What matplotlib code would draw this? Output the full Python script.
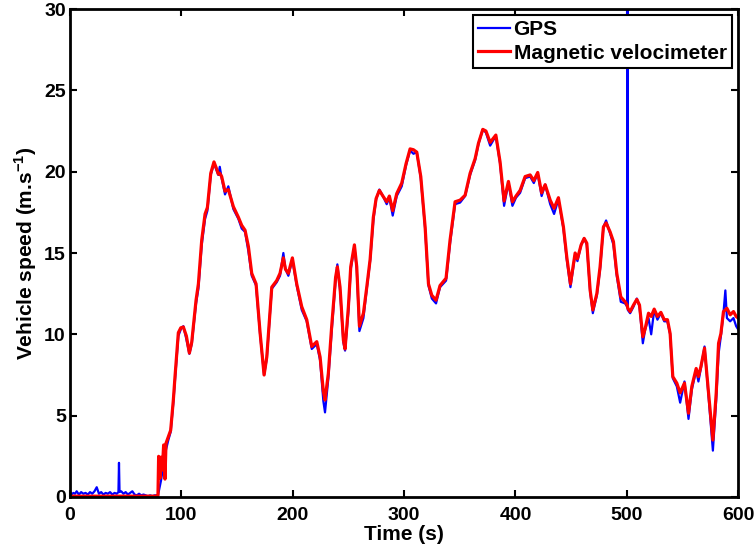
import numpy as np
import matplotlib.pyplot as plt
plt.switch_backend('agg')

plt.rcParams['font.family'] = ['Liberation Sans', 'DejaVu Sans']
plt.rcParams['font.weight'] = 'bold'
plt.rcParams['mathtext.fontset'] = 'custom'
plt.rcParams['mathtext.bf'] = 'Liberation Sans:bold'
plt.rcParams['mathtext.rm'] = 'Liberation Sans:bold'

# idle part, vehicle stopped (0-78 s)
t_idle = [0, 1.5, 3, 4.5, 6, 8, 10, 12, 14, 16,
          18, 20, 22, 24, 26, 28, 30, 32, 34, 36,
          38, 40, 42, 43.5, 44, 44.5, 46, 48, 50, 52,
          54, 56, 58, 60, 62, 64, 66, 68, 70, 72,
          74, 76, 78]
gps_idle = [0.3, 0.15, 0.25, 0.2, 0.35, 0.15, 0.3, 0.2, 0.25, 0.15,
            0.3, 0.2, 0.35, 0.6, 0.2, 0.3, 0.15, 0.25, 0.2, 0.3,
            0.15, 0.25, 0.2, 0.3, 2.1, 0.3, 0.35, 0.2, 0.3, 0.15,
            0.25, 0.35, 0.15, 0.1, 0.2, 0.1, 0.15, 0.1, 0.05, 0.1,
            0.05, 0.1, 0.1]
mag_idle = [0.05] * len(t_idle)

# start up (79-90 s)
t_start = [79, 79.6, 80.8, 81.7, 82.9, 84.1, 85.3, 86.2, 88.3, 90.4]
mag_start = [0.1, 2.5, 1.15, 2.45, 1.65, 3.2, 1.1, 3.3, 3.7, 4.1]
gps_start = [0.1, 0.3, 0.7, 1.0, 1.5, 2.0, 2.5, 2.9, 3.5, 4.0]

# driving
t_drive = [92.8, 94.3, 97.3, 99.5, 101.8, 104.5, 107.2, 109.3, 113.2, 115.3,
           118.3, 121.3, 123.4, 126.4, 129.3, 131.5, 133.2, 134.5, 136.2, 139.2,
           142.2, 146.7, 151.2, 154.2, 157.2, 160.2, 163.2, 167.1, 170.7, 174.3,
           176.7, 181.2, 185.6, 188.6, 191.6, 193.5, 196.1, 199.7, 203.6, 208.1,
           212.6, 217.1, 221.6, 224.6, 227.5, 229.0, 232.0, 235.0, 238.5, 240.1,
           242.5, 245.5, 247.0, 250.0, 252.1, 255.4, 257.5, 259.9, 263.5, 266.5,
           269.5, 272.4, 274.9, 277.8, 281.0, 284.4, 286.8, 289.8, 293.4, 297.9,
           301.8, 305.4, 308.4, 311.4, 315.0, 318.9, 321.9, 324.9, 328.7, 332.3,
           337.7, 341.3, 345.8, 350.3, 354.8, 359.3, 363.8, 366.8, 370.7, 373.5,
           377.3, 382.4, 386.2, 389.8, 393.7, 397.3, 400.5, 404.2, 408.7, 413.2,
           416.5, 420.0, 423.5, 426.7, 431.2, 434.7, 438.6, 443.1, 446.1, 449.4,
           453.6, 455.7, 459.0, 461.7, 464.1, 467.1, 469.5, 473.1, 476.0, 479.0,
           481.4, 485.0, 488.0, 491.0, 494.6, 498.5, 500.3, 500.6, 500.9, 503.0,
           506.0, 509.0, 511.4, 514.4, 516.5, 519.5, 521.9, 524.6, 527.5, 530.6,
           533.6, 536.5, 538.9, 541.3, 544.9, 547.9, 551.8, 555.4, 558.4, 562.3,
           564.3, 566.5, 569.8, 573.4, 577.3, 580.3, 582.4, 584.5, 586.8, 588.5,
           589.9, 592.8, 595.8, 598.2, 600]
mag_drive = [5.96, 7.4, 10.1, 10.4, 10.45, 9.9, 8.85, 9.5, 12.1, 13.1,
             15.8, 17.4, 17.8, 19.9, 20.6, 20.2, 19.85, 19.9, 19.7, 18.8,
             18.9, 17.85, 17.2, 16.7, 16.4, 15.4, 13.75, 13.1, 10.1, 7.5,
             8.6, 12.9, 13.3, 13.75, 14.7, 14.0, 13.75, 14.7, 13.1, 11.7,
             10.9, 9.25, 9.55, 8.6, 6.5, 5.96, 7.6, 10.5, 13.5, 14.15,
             12.9, 9.65, 9.1, 11.7, 14.15, 15.5, 14.15, 10.5, 11.3, 12.9,
             14.6, 17.2, 18.35, 18.85, 18.5, 18.15, 18.5, 17.6, 18.65, 19.3,
             20.5, 21.4, 21.35, 21.2, 19.7, 16.6, 13.1, 12.4, 12.1, 13.0,
             13.45, 15.8, 18.15, 18.25, 18.55, 19.9, 20.8, 21.75, 22.6, 22.5,
             21.8, 22.25, 20.6, 18.2, 19.4, 18.15, 18.5, 18.85, 19.7, 19.8,
             19.45, 19.95, 18.7, 19.2, 18.25, 17.75, 18.4, 16.6, 14.75, 13.1,
             15.0, 14.65, 15.5, 15.9, 15.6, 12.7, 11.5, 12.5, 14.15, 16.6,
             16.85, 16.3, 15.7, 13.75, 12.3, 12.0, 11.8, 11.7, 11.6, 11.4,
             11.8, 12.15, 11.8, 9.85, 10.35, 11.3, 11.1, 11.55, 11.1, 11.35,
             10.9, 10.9, 10.05, 7.4, 7.0, 6.4, 7.0, 5.15, 6.8, 7.9,
             7.4, 8.0, 9.15, 6.4, 3.5, 6.4, 9.45, 10.05, 11.4, 11.5,
             11.6, 11.2, 11.4, 11.1, 11.0]
gps_drive = [5.8, 7.2, 9.9, 10.3, 10.5, 9.7, 8.8, 9.4, 11.9, 12.8,
             15.5, 17.1, 17.6, 19.8, 20.5, 20.1, 19.8, 20.3, 19.6, 18.6,
             19.1, 17.7, 17.1, 16.5, 16.3, 15.1, 13.6, 13.0, 10.0, 7.5,
             8.5, 12.8, 13.2, 13.6, 15.0, 14.0, 13.6, 14.6, 13.0, 11.5,
             10.8, 9.1, 9.4, 8.4, 5.9, 5.2, 7.3, 10.2, 13.3, 14.3,
             12.7, 9.5, 9.0, 11.4, 14.0, 15.4, 14.0, 10.2, 11.0, 12.8,
             14.5, 17.0, 18.3, 18.9, 18.5, 18.0, 18.4, 17.3, 18.5, 19.1,
             20.4, 21.3, 21.1, 21.2, 19.6, 16.5, 13.0, 12.2, 11.9, 12.9,
             13.3, 15.6, 18.0, 18.1, 18.5, 19.8, 20.7, 21.7, 22.6, 22.4,
             21.6, 22.2, 20.5, 17.9, 19.3, 17.9, 18.4, 18.7, 19.6, 19.7,
             19.3, 19.9, 18.5, 19.2, 18.0, 17.4, 18.3, 16.5, 14.6, 12.9,
             14.9, 14.5, 15.5, 15.9, 15.5, 12.6, 11.3, 12.4, 14.0, 16.6,
             17.0, 16.2, 15.5, 13.6, 12.0, 11.9, 11.7, 31.0, 11.5, 11.3,
             11.7, 12.2, 11.7, 9.45, 10.3, 11.0, 10.0, 11.5, 10.9, 11.3,
             10.8, 10.8, 10.0, 7.3, 6.8, 5.8, 7.1, 4.8, 6.6, 7.8,
             7.1, 7.9, 9.25, 6.2, 2.85, 6.0, 8.8, 9.9, 11.3, 12.7,
             11.0, 10.8, 11.0, 10.5, 10.3]

time_s = np.array(t_idle + t_start + t_drive)
gps_speed = np.array(gps_idle + gps_start + gps_drive)
mag_speed = np.array(mag_idle + mag_start + mag_drive)

fig = plt.figure(figsize=(7.55, 5.5), dpi=100)
ax = fig.add_axes([0.0927, 0.0964, 0.885, 0.8872])
ax.plot(time_s, gps_speed, color='#0000ff', lw=1.6, label='GPS')
ax.plot(time_s, mag_speed, color='#ff0000', lw=2.3, label='Magnetic velocimeter')

ax.set_xlim(0, 600)
ax.set_ylim(0, 30)
ax.set_xticks(np.arange(0, 601, 100))
ax.set_yticks(np.arange(0, 31, 5))
ax.tick_params(direction='in', top=True, right=True, length=5, width=1.5,
               labelsize=14)
ax.tick_params(axis='x', pad=7)
ax.tick_params(axis='y', pad=3)
for s in ax.spines.values():
    s.set_linewidth(2)
for lab in ax.get_xticklabels() + ax.get_yticklabels():
    lab.set_fontweight('bold')
ax.set_xlabel('Time (s)', fontsize=15, fontweight='bold', labelpad=1)
ax.set_ylabel(r'Vehicle speed (m.s$^{\mathbf{-1}}$)', fontsize=15,
              fontweight='bold', labelpad=4)

leg = ax.legend(loc='upper right', fontsize=15, handlelength=1.55,
                handletextpad=0.15, borderpad=0.25, labelspacing=0.2,
                fancybox=False, framealpha=1, borderaxespad=0.3)
leg.get_frame().set_edgecolor('black')
leg.get_frame().set_linewidth(1.5)
for txt in leg.get_texts():
    txt.set_fontweight('bold')

fig.savefig('out.png', dpi=100)
